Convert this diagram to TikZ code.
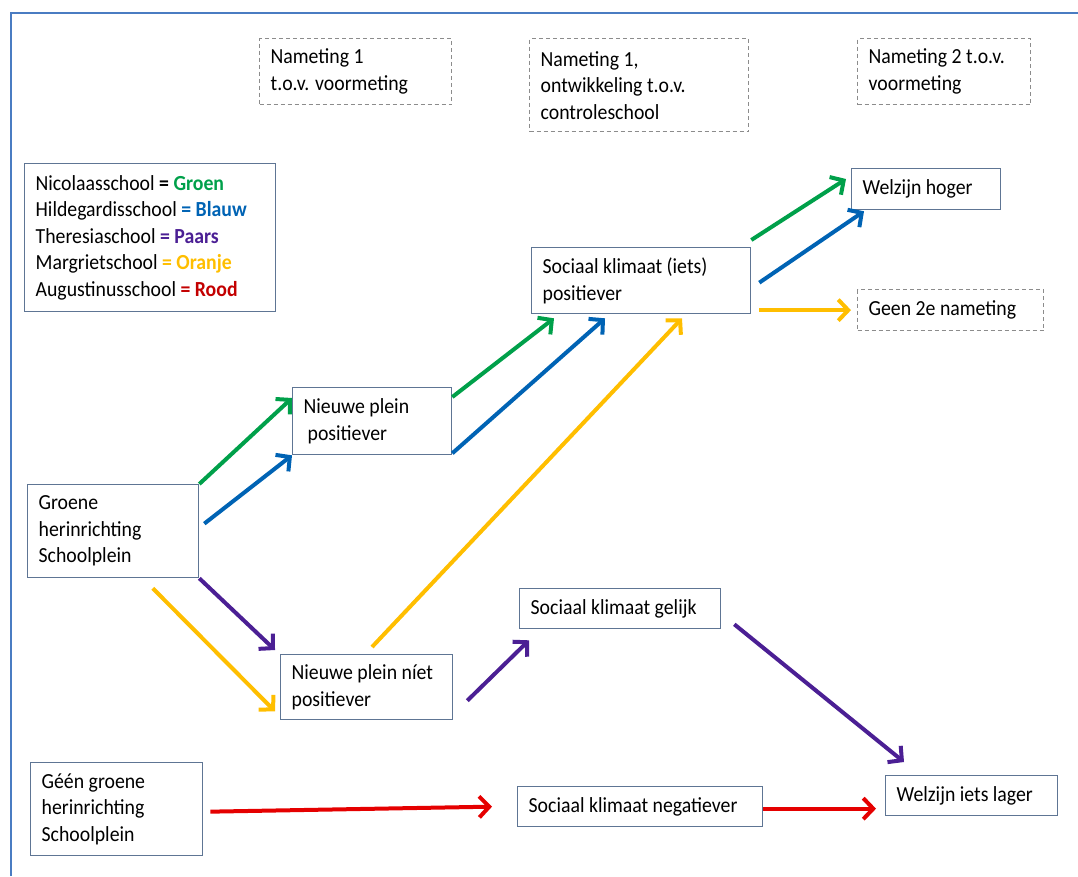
\documentclass[tikz,border=0pt]{standalone}
\usepackage{fontspec}
\setmainfont{Carlito}[FakeStretch=0.92]
\usetikzlibrary{arrows.meta}
\definecolor{groen}{HTML}{00A04A}
\definecolor{blauw}{HTML}{0063B4}
\definecolor{paars}{HTML}{4B1F94}
\definecolor{oranje}{HTML}{FFBE00}
\definecolor{rood}{HTML}{E50000}
\definecolor{rand}{HTML}{5E7594}
\definecolor{kader}{HTML}{4A7CC2}

\begin{document}
\begin{tikzpicture}[x=1pt,y=-1pt,
  box/.style={draw=rand,line width=1.3pt,anchor=north west,align=flush left,inner xsep=11pt,inner ysep=0pt,
    font=\fontsize{21.5}{26.5}\selectfont},
  stip/.style={box,draw=gray!90,dash pattern=on 4pt off 3pt},
  pijl/.style={line width=4pt,-{Straight Barb[length=10pt,width=21pt]}}]

\useasboundingbox (0,0) rectangle (1078,876);
\draw[kader,line width=2pt] (11,876)--(11,13)--(1078,13);

% kolomkoppen
\node[stip,text width=170pt,minimum height=66pt] (nm1) at (259,38) {Nameting 1\\t.o.v. voormeting};
\node[stip,text width=197pt,minimum height=93pt] (nm2) at (529,38) {Nameting 1,\\ontwikkeling t.o.v.\\controleschool};
\node[stip,text width=151pt,minimum height=66pt] (nm3) at (857,38) {Nameting 2 t.o.v.\\voormeting};

% legenda
\node[box,text width=229pt,minimum height=148pt] (leg) at (24,163) {Nicolaasschool \textbf{= \textcolor{groen}{Groen}}\\
Hildegardisschool \textbf{\textcolor{blauw}{= Blauw}}\\
Theresiaschool \textbf{\textcolor{paars}{= Paars}}\\
Margrietschool \textbf{\textcolor{oranje}{= Oranje}}\\
Augustinusschool \textbf{\textcolor{rood!85!black}{= Rood}}};

\node[box,text width=127pt,minimum height=41pt] (wh) at (851,168) {Welzijn hoger};
\node[box,text width=197pt,minimum height=66pt] (skp) at (531,247) {Sociaal klimaat (iets)\\positiever};
\node[stip,text width=164pt,minimum height=41pt] (geen) at (857,289) {Geen 2e nameting};
\node[box,text width=137pt,minimum height=67pt] (npp) at (292,387) {Nieuwe plein\\\hspace*{4pt}positiever};
\node[box,text width=149pt,minimum height=93pt] (gh) at (27,484) {Groene\\herinrichting\\Schoolplein};
\node[box,text width=179pt,minimum height=40pt] (skg) at (519,588) {Sociaal klimaat gelijk};
\node[box,text width=150pt,minimum height=65pt] (npn) at (280,654) {Nieuwe plein níet\\positiever};
\node[box,text width=150pt,minimum height=93pt] (ggh) at (30,762) {Géén groene\\herinrichting\\Schoolplein};
\node[box,text width=223pt,minimum height=40pt] (skn) at (517,786) {Sociaal klimaat negatiever};
\node[box,text width=150pt,minimum height=40pt] (wil) at (885,775) {Welzijn iets lager};

% groen
\draw[pijl,groen] (gh.north east) -- ([yshift=-11pt]npp.north west);
\draw[pijl,groen] ([yshift=-10pt]npp.north east) -- ([xshift=23pt,yshift=-4pt]skp.south west);
\draw[pijl,groen] ([yshift=7pt]skp.north east) -- ([xshift=-5pt,yshift=-11pt]wh.north west);
% blauw
\draw[pijl,blauw] ([xshift=5pt,yshift=7.5pt]gh.east) -- (npp.south west);
\draw[pijl,blauw] ([yshift=2pt]npp.south east) -- ([xshift=74pt,yshift=-4pt]skp.south west);
\draw[pijl,blauw] ([xshift=8pt,yshift=-2pt]skp.east) -- ([xshift=13pt,yshift=-1pt]wh.south west);
% paars
\draw[pijl,paars] (gh.south east) -- ([xshift=-5pt,yshift=4pt]npn.north west);
\draw[pijl,paars] ([xshift=14pt,yshift=-13.5pt]npn.east) -- ([xshift=10pt,yshift=-11pt]skg.south west);
\draw[pijl,paars] ([xshift=13pt,yshift=5pt]skg.south east) -- ([xshift=19pt,yshift=13pt]wil.north west);
% oranje
\draw[pijl,oranje] ([xshift=-46.5pt,yshift=-10pt]gh.south east) -- ([xshift=-5pt,yshift=9pt]npn.south west);
\draw[pijl,oranje] ([xshift=92pt,yshift=7pt]npn.north west) -- ([xshift=151pt,yshift=-4pt]skp.south west);
\draw[pijl,oranje] ([xshift=8pt]skp.east |- geen.west) -- ([xshift=-6pt]geen.west);
% rood
\draw[pijl,rood] ([xshift=7pt,yshift=-2.5pt]ggh.east) -- ([xshift=-25pt]skn.west);
\draw[pijl,rood] ([yshift=-2pt]skn.east) -- ([xshift=-9pt,yshift=-2pt]wil.west |- skn.east);
\end{tikzpicture}
\end{document}
